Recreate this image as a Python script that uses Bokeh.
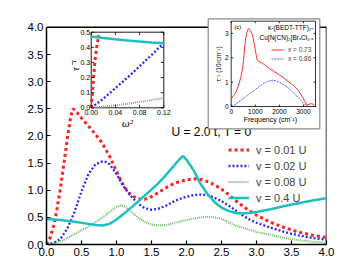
import math
from bokeh.plotting import figure
from bokeh.models import Range1d, FixedTicker, Legend, LegendItem, Label, PrintfTickFormatter
from bokeh.embed import file_html
from bokeh.resources import INLINE
from bokeh.core.properties import value

# ---------------- main chart data ----------------
x_ticks = [0.0, 0.5, 1.0, 1.5, 2.0, 2.5, 3.0, 3.5, 4.0]
y_ticks = [0.0, 0.5, 1.0, 1.5, 2.0, 2.5, 3.0, 3.5, 4.0]
series_labels = ["v = 0.01 U", "v = 0.02 U", "v = 0.08 U", "v = 0.4 U"]

w_001 = [0.0, 0.05, 0.10, 0.15, 0.20, 0.25, 0.30, 0.35, 0.38, 0.42, 0.50, 0.60, 0.70, 0.80,
         0.90, 1.00, 1.10, 1.20, 1.30, 1.40, 1.50, 1.60, 1.70, 1.80, 1.90, 2.00, 2.10, 2.20,
         2.30, 2.40, 2.50, 2.60, 2.70, 2.80, 2.90, 3.00, 3.20, 3.40, 3.60, 3.80, 4.00]
tau_001 = [0.0, 0.12, 0.33, 0.65, 1.05, 1.50, 1.98, 2.38, 2.50, 2.46, 2.33, 2.18, 2.03, 1.86,
           1.63, 1.35, 1.08, 0.92, 0.84, 0.83, 0.88, 0.96, 1.04, 1.11, 1.16, 1.19, 1.21, 1.20,
           1.16, 1.10, 1.02, 0.92, 0.81, 0.71, 0.62, 0.54, 0.41, 0.31, 0.23, 0.17, 0.13]

w_002 = [0.0, 0.1, 0.2, 0.3, 0.4, 0.5, 0.6, 0.7, 0.8, 0.85, 0.9, 1.0, 1.1, 1.2, 1.3, 1.4,
         1.5, 1.6, 1.7, 1.8, 1.9, 2.0, 2.1, 2.2, 2.3, 2.4, 2.5, 2.6, 2.7, 2.8, 2.9, 3.0,
         3.2, 3.4, 3.6, 3.8, 4.0]
tau_002 = [0.0, 0.03, 0.10, 0.30, 0.60, 0.98, 1.30, 1.48, 1.53, 1.52, 1.48, 1.30, 1.07, 0.90,
           0.76, 0.67, 0.64, 0.66, 0.71, 0.78, 0.84, 0.88, 0.91, 0.92, 0.91, 0.86, 0.80, 0.72,
           0.63, 0.54, 0.46, 0.40, 0.31, 0.23, 0.17, 0.12, 0.09]

w_008 = [0.0, 0.1, 0.2, 0.3, 0.4, 0.5, 0.6, 0.7, 0.8, 0.9, 1.0, 1.05, 1.1, 1.2, 1.3, 1.4,
         1.5, 1.6, 1.7, 1.8, 1.9, 2.0, 2.1, 2.2, 2.3, 2.4, 2.5, 2.6, 2.7, 2.8, 3.0, 3.2,
         3.4, 3.6, 3.8, 4.0]
tau_008 = [0.0, 0.02, 0.06, 0.12, 0.19, 0.26, 0.33, 0.41, 0.50, 0.60, 0.69, 0.72, 0.71, 0.62,
           0.50, 0.42, 0.37, 0.35, 0.36, 0.39, 0.42, 0.45, 0.48, 0.50, 0.51, 0.50, 0.47, 0.41,
           0.35, 0.31, 0.23, 0.18, 0.12, 0.08, 0.05, 0.03]

w_04 = [0.0, 0.2, 0.4, 0.6, 0.7, 0.8, 0.9, 1.0, 1.1, 1.2, 1.3, 1.4, 1.5, 1.6, 1.7, 1.8,
        1.9, 1.95, 2.0, 2.1, 2.2, 2.3, 2.4, 2.5, 2.6, 2.7, 2.8, 2.9, 3.0, 3.2, 3.4, 3.6,
        3.8, 4.0]
tau_04 = [0.47, 0.45, 0.42, 0.38, 0.36, 0.35, 0.38, 0.46, 0.56, 0.67, 0.78, 0.90, 1.01, 1.13,
          1.27, 1.42, 1.57, 1.63, 1.56, 1.37, 1.12, 0.93, 0.78, 0.68, 0.62, 0.58, 0.57, 0.58,
          0.60, 0.65, 0.71, 0.76, 0.81, 0.85]

# ---------------- inset 1 data (tau^-1 vs omega^2) ----------------
ins1_x_ticks = [0.00, 0.04, 0.08, 0.12]
ins1_x_labels = ["0.00", "0.04", "0.08", "0.12"]
ins1_y_ticks = [0.0, 0.1, 0.2, 0.3, 0.4, 0.5]
ins1_y_labels = ["0.0", "0.1", "0.2", "0.3", "0.4", "0.5"]
ins1_w2_001 = [0.0, 0.002, 0.004, 0.006, 0.009, 0.0125]
ins1_tau_001 = [0.0, 0.10, 0.20, 0.30, 0.40, 0.48]
ins1_w2_002 = [0.0, 0.02, 0.04, 0.06, 0.08, 0.10, 0.12]
ins1_tau_002 = [0.0, 0.06, 0.13, 0.20, 0.275, 0.35, 0.43]
ins1_w2_008 = [0.0, 0.03, 0.06, 0.09, 0.12]
ins1_tau_008 = [0.0, 0.012, 0.027, 0.045, 0.065]
ins1_w2_04 = [0.0, 0.02, 0.04, 0.06, 0.08, 0.10, 0.12]
ins1_tau_04 = [0.472, 0.462, 0.453, 0.445, 0.438, 0.432, 0.427]

# ---------------- inset 2 data (experiment) ----------------
ins2_x_ticks = [0, 1000, 2000, 3000]
ins2_x_labels = ["0", "1000", "2000", "3000"]
ins2_x_max = 3500
ins2_y_ticks = [0, 1, 2, 3]
ins2_y_labels = ["0", "1", "2", "3"]
ins2_y_max = 3.5
exp_labels = ["x = 0.73", "x = 0.86"]
freq_073 = [0, 100, 200, 300, 400, 480, 540, 600, 680, 740, 800, 880, 950, 1020, 1080, 1150,
            1250, 1400, 1600, 1800, 2000, 2200, 2400, 2600, 2800, 2950, 3050, 3150, 3250,
            3350, 3450]
tau_073 = [0.30, 0.45, 0.60, 0.85, 1.20, 1.60, 2.20, 2.80, 3.15, 3.20, 3.10, 2.95, 2.60,
           2.20, 1.90, 1.85, 1.80, 1.70, 1.55, 1.42, 1.30, 1.16, 1.00, 0.85, 0.65, 0.40,
           0.22, 0.05, 0.10, 0.12, 0.05]
freq_086 = [0, 200, 400, 600, 800, 1000, 1200, 1400, 1600, 1750, 1900, 2100, 2300, 2500,
            2700, 2900, 3050, 3150]
tau_086 = [0.00, 0.10, 0.25, 0.40, 0.55, 0.70, 0.85, 0.98, 1.06, 1.08, 1.04, 0.95, 0.82,
           0.65, 0.45, 0.25, 0.08, 0.02]

# ---------------- layout helpers (pixel geometry; page origin = figure origin) ----------------
W, H = 360, 272
BL, BT = 46, 16
FRAME_W, FRAME_H = 280, 228
BR = W - BL - FRAME_W
BB = H - BT - FRAME_H
Y_END = 4.2
FRAME_L = BL
FRAME_B = BT + FRAME_H
XS = FRAME_W / (x_ticks[-1] - x_ticks[0])
YS = FRAME_H / Y_END


def px2x(px):
    return (px - FRAME_L) / XS


def py2y(py):
    return (FRAME_B - py) / YS


SANS = value("Liberation Sans")
SERIF = value("Liberation Serif")

p = figure(width=W, height=H, x_range=Range1d(x_ticks[0], x_ticks[-1]), y_range=Range1d(0, Y_END),
           output_backend="svg", toolbar_location=None,
           min_border_left=BL, min_border_right=BR, min_border_top=BT, min_border_bottom=BB)
p.outline_line_color = None
p.grid.visible = False
p.background_fill_color = "white"
p.border_fill_color = "white"

for ax, ticks in ((p.xaxis[0], x_ticks), (p.yaxis[0], y_ticks)):
    ax.ticker = FixedTicker(ticks=ticks)
    ax.formatter = PrintfTickFormatter(format="%.1f")
    ax.major_tick_in = 4
    ax.major_tick_out = 0
    ax.minor_tick_line_color = None
    ax.axis_line_width = 1.5
    ax.major_tick_line_width = 1.2
    ax.major_label_text_font = "Liberation Sans"
    ax.major_label_text_font_size = "11.5px"
    ax.major_label_text_color = "black"
    ax.major_label_standoff = 3
    ax.axis_label = None
p.yaxis.bounds = (y_ticks[0], y_ticks[-1])

# top and right frame lines
p.segment(x0=[x_ticks[0], x_ticks[-1]], y0=[y_ticks[-1], y_ticks[0]],
          x1=[x_ticks[-1], x_ticks[-1]], y1=[y_ticks[-1], y_ticks[-1]],
          line_color="black", line_width=1.5)

RED, BLUE, GREEN, CYAN = "#ff2020", "#2b2bff", "#6db86d", "#1fbfbf"
r1 = p.line(w_001, tau_001, line_color=RED, line_width=3, line_dash="3 3")
r2 = p.line(w_002, tau_002, line_color=BLUE, line_width=2.3, line_dash="2 2")
r3 = p.line(w_008, tau_008, line_color=GREEN, line_width=2, line_dash="1 1")
r4 = p.line(w_04, tau_04, line_color=CYAN, line_width=2.5)

p.text(x=[px2x(171)], y=[py2y(131.5)], text=["U = 2.0 t, T = 0"], text_font=SANS,
       text_font_size="12px", text_baseline="middle", text_align="left", text_color="black")

legend = Legend(items=[LegendItem(label=series_labels[i], renderers=[r]) for i, r in enumerate([r1, r2, r3, r4])],
                location=(228 - FRAME_L, FRAME_B - 205), glyph_width=21, glyph_height=15, label_height=15,
                spacing=1, padding=0, margin=0, label_standoff=7, label_text_font="Liberation Sans",
                label_text_font_size="11px", border_line_color=None, background_fill_alpha=0)
p.add_layout(legend)

p.add_layout(Label(x=px2x(15), y=py2y(130), text="τ⁻¹", angle=math.pi / 2, text_align="center",
                   text_baseline="middle", text_font="Liberation Serif", text_font_style="italic",
                   text_font_size="15px"))
p.add_layout(Label(x=px2x(185), y=py2y(262), text="ω", text_align="center", text_baseline="middle",
                   text_font="Liberation Serif", text_font_style="italic", text_font_size="14px"))


def draw_frame_ticks(api, xt, yt, xmax, ymax, tick_len):
    n, m = len(xt), len(yt)
    api.ray(x=xt, y=[yt[0]] * n, length=tick_len, length_units="screen", angle=math.pi / 2,
            line_color="black", line_width=0.8)
    api.ray(x=xt, y=[ymax] * n, length=tick_len, length_units="screen", angle=-math.pi / 2,
            line_color="black", line_width=0.8)
    api.ray(x=[xt[0]] * m, y=yt, length=tick_len, length_units="screen", angle=0,
            line_color="black", line_width=0.8)
    api.ray(x=[xmax] * m, y=yt, length=tick_len, length_units="screen", angle=math.pi,
            line_color="black", line_width=0.8)


# ---------------- inset 1 ----------------
ins1 = p.subplot(x_source=Range1d(ins1_x_ticks[0], ins1_x_ticks[-1]),
                 y_source=Range1d(ins1_y_ticks[0], ins1_y_ticks[-1]),
                 x_target=Range1d(px2x(90.7), px2x(163.3)),
                 y_target=Range1d(py2y(107.3), py2y(31.7)))
ins1.quad(left=[ins1_x_ticks[0]], right=[ins1_x_ticks[-1]], bottom=[ins1_y_ticks[0]], top=[ins1_y_ticks[-1]],
          fill_color="white", line_color="black", line_width=0.9)
ins1.line(ins1_w2_008, ins1_tau_008, line_color=GREEN, line_width=2, line_dash="1 1")
ins1.line(ins1_w2_002, ins1_tau_002, line_color=BLUE, line_width=2.3, line_dash="2 2")
ins1.line(ins1_w2_04, ins1_tau_04, line_color=CYAN, line_width=2.5)
ins1.line(ins1_w2_001, ins1_tau_001, line_color=RED, line_width=3, line_dash="3 3")
draw_frame_ticks(ins1, ins1_x_ticks, ins1_y_ticks, ins1_x_ticks[-1], ins1_y_ticks[-1], 3)
ins1.text(x=ins1_x_ticks, y=[ins1_y_ticks[0]] * len(ins1_x_ticks), text=ins1_x_labels, y_offset=2,
          text_align="center", text_baseline="top", text_font=SANS, text_font_size="7px", text_color="black")
ins1.text(x=[ins1_x_ticks[0]] * len(ins1_y_ticks), y=ins1_y_ticks, text=ins1_y_labels, x_offset=-1,
          text_align="right", text_baseline="middle", text_font=SANS, text_font_size="7px", text_color="black")
ins1.text(x=[ins1_x_ticks[0]], y=[0.28], text=["τ⁻¹"], x_offset=-16, angle=math.pi / 2,
          text_align="center", text_baseline="middle", text_font=SERIF, text_font_style="italic",
          text_font_size="11px", text_color="black")
ins1.text(x=[(ins1_x_ticks[0] + ins1_x_ticks[-1]) / 2], y=[ins1_y_ticks[0]], text=["ω²"], y_offset=15,
          text_align="center", text_baseline="middle", text_font=SERIF, text_font_style="italic",
          text_font_size="11px", text_color="black")

# ---------------- inset 2 ----------------
p.quad(left=[px2x(207.7)], right=[px2x(319.3)], bottom=[py2y(128.3)], top=[py2y(18.3)],
       fill_color="white", line_color="#8a8a8a", line_width=1.2)
ins2 = p.subplot(x_source=Range1d(0, ins2_x_max), y_source=Range1d(0, ins2_y_max),
                 x_target=Range1d(px2x(230.7), px2x(315.0)),
                 y_target=Range1d(py2y(106.0), py2y(20.7)))
ins2.quad(left=[0], right=[ins2_x_max], bottom=[0], top=[ins2_y_max],
          fill_color="white", line_color="black", line_width=0.8)
e1 = ins2.line(freq_073, tau_073, line_color="#ff3030", line_width=1)
e2 = ins2.line(freq_086, tau_086, line_color="#5a5aff", line_width=1, line_dash="2 1")
draw_frame_ticks(ins2, ins2_x_ticks, ins2_y_ticks, ins2_x_max, ins2_y_max, 2)
ins2.text(x=ins2_x_ticks, y=[0] * len(ins2_x_ticks), text=ins2_x_labels, y_offset=2,
          text_align="center", text_baseline="top", text_font=SANS, text_font_size="6.5px", text_color="black")
ins2.text(x=[0] * len(ins2_y_ticks), y=ins2_y_ticks, text=ins2_y_labels, x_offset=-2.5,
          text_align="right", text_baseline="middle", text_font=SANS, text_font_size="6.5px", text_color="black")
ins2.text(x=[0], y=[ins2_y_max], text=["(c)"], x_offset=3, y_offset=6, text_align="left",
          text_baseline="middle", text_font=SANS, text_font_size="6px", text_color="black")
ins2.text(x=[ins2_x_max, ins2_x_max], y=[ins2_y_max, ins2_y_max],
          text=["κ-(BEDT-TTF)₂-", "Cu[N(CN)₂]BrₓCl₁₋ₓ"], x_offset=-2, y_offset=[6, 16],
          text_align="right", text_baseline="middle", text_font=SANS, text_font_size="6.5px", text_color="black")
ins2.text(x=[0], y=[ins2_y_max / 2], text=["τ⁻¹ (10³cm⁻¹)"], x_offset=-12.5, angle=math.pi / 2,
          text_align="center", text_baseline="middle", text_font=SANS, text_font_size="6.5px", text_color="black")
ins2.text(x=[ins2_x_max / 2], y=[0], text=["Frequency (cm⁻¹)"], x_offset=-3, y_offset=9,
          text_align="center", text_baseline="top", text_font=SANS, text_font_size="7px", text_color="black")

leg2 = Legend(items=[LegendItem(label=exp_labels[0], renderers=[e1]), LegendItem(label=exp_labels[1], renderers=[e2])],
              location=(271 - FRAME_L, FRAME_B - 63), glyph_width=13, glyph_height=9, label_height=9, spacing=0,
              padding=0, margin=0, label_standoff=4, label_text_font="Liberation Sans",
              label_text_font_size="6.5px", border_line_color=None, background_fill_alpha=0)
p.add_layout(leg2)

open("out.html", "w").write(file_html(p, INLINE))
